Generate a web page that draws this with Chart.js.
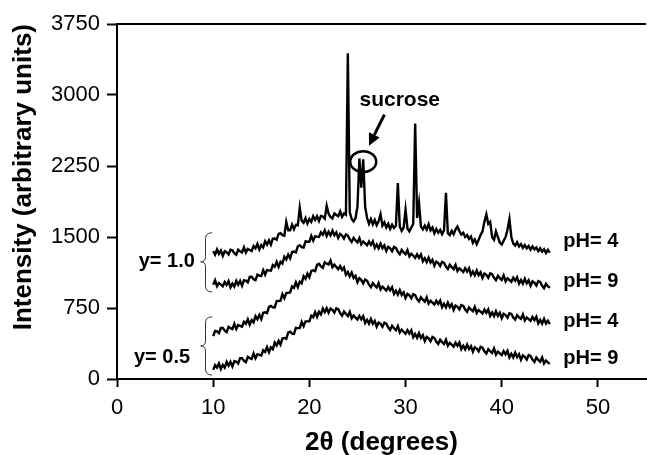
<!DOCTYPE html>
<html>
<head>
<meta charset="utf-8">
<script src="https://cdn.jsdelivr.net/npm/chart.js@4.4.1/dist/chart.umd.min.js"></script>
<style>
  html, body { margin: 0; padding: 0; background: #fff; }
  #xrd { display: block; }
</style>
</head>
<body>
<canvas id="xrd" width="647" height="455"></canvas>
<script>
// XRD patterns, 2theta sampled every 0.2 deg from 10 to 45
var angles = [];
for (var i = 0; i <= 175; i++) angles.push(Math.round((10 + i * 0.2) * 10) / 10);

// y = 1.0, pH 4 (with sucrose peaks)
var y10ph4 = [
  1350, 1314, 1368, 1322, 1356,
  1300, 1350, 1340, 1315, 1365,
  1360, 1328, 1312, 1365, 1349,
  1337, 1391, 1335, 1374, 1363,
  1352, 1404, 1380, 1427, 1368,
  1415, 1390, 1455, 1420, 1465,
  1420, 1482, 1484, 1471, 1533,
  1540, 1519, 1513, 1660, 1571,
  1570, 1631, 1582, 1628, 1624,
  1810, 1673, 1651, 1699, 1642,
  1690, 1660, 1720, 1680, 1720,
  1670, 1723, 1716, 1694, 1830,
  1745, 1713, 1696, 1749, 1732,
  1720, 1771, 1712, 1748, 1734,
  3440, 1760, 1690, 1665, 1700,
  1820, 2330, 2020, 2320, 1820,
  1700, 1640, 1690, 1635, 1680,
  1625, 1665, 1740, 1620, 1655,
  1600, 1640, 1585, 1630, 1595,
  1620, 2070, 1610, 1565, 1600,
  1790, 1590, 1560, 1600, 1640,
  2700, 1700, 1860, 1610, 1580,
  1620, 1580, 1635, 1570, 1600,
  1540, 1585, 1545, 1575, 1530,
  1570, 1968, 1540, 1520, 1565,
  1530, 1580, 1610, 1560, 1525,
  1545, 1500, 1520, 1480, 1505,
  1440, 1475, 1425, 1470, 1520,
  1560, 1660, 1740, 1640, 1660,
  1500, 1470, 1560, 1500, 1440,
  1420, 1460, 1500, 1580, 1690,
  1500, 1430, 1410, 1445, 1400,
  1425, 1385, 1415, 1380, 1405,
  1365, 1400, 1370, 1390, 1350,
  1380, 1345, 1370, 1330, 1365,
  1335
];
// y = 1.0, pH 9
var y10ph9 = [
  995, 1043, 981, 1014, 997,
  980, 1025, 994, 1034, 968,
  1008, 977, 1037, 996, 1036,
  985, 1042, 1039, 1021, 1078,
  1080, 1054, 1044, 1103, 1093,
  1087, 1150, 1102, 1150, 1147,
  1145, 1203, 1185, 1238, 1185,
  1238, 1219, 1291, 1262, 1314,
  1275, 1341, 1346, 1337, 1402,
  1413, 1393, 1389, 1454, 1450,
  1450, 1511, 1462, 1508, 1504,
  1500, 1550, 1525, 1570, 1510,
  1555, 1516, 1567, 1518, 1549,
  1490, 1533, 1516, 1484, 1527,
  1515, 1474, 1447, 1491, 1464,
  1443, 1488, 1423, 1452, 1432,
  1412, 1453, 1418, 1454, 1384,
  1420, 1380, 1430, 1381, 1411,
  1351, 1396, 1381, 1350, 1395,
  1385, 1345, 1319, 1364, 1338,
  1318, 1361, 1295, 1323, 1302,
  1280, 1318, 1281, 1315, 1243,
  1276, 1234, 1282, 1231, 1259,
  1197, 1241, 1225, 1194, 1238,
  1227, 1187, 1162, 1206, 1181,
  1161, 1206, 1141, 1170, 1150,
  1130, 1170, 1135, 1170, 1100,
  1135, 1095, 1146, 1096, 1127,
  1067, 1113, 1099, 1070, 1116,
  1107, 1068, 1044, 1090, 1066,
  1047, 1094, 1031, 1064, 1046,
  1028, 1070, 1038, 1075, 1008,
  1045, 1007, 1059, 1011, 1043,
  985, 1031, 1017, 988, 1034,
  1025, 985, 960, 1005, 980,
  962
];
// y = 0.5, pH 4
var y05ph4 = [
  452, 508, 503, 484, 539,
  540, 510, 496, 551, 537,
  527, 583, 529, 570, 561,
  552, 605, 583, 631, 574,
  622, 598, 664, 631, 677,
  633, 699, 705, 696, 762,
  773, 757, 756, 824, 823,
  827, 896, 854, 908, 911,
  915, 977, 963, 1020, 971,
  1028, 1011, 1085, 1058, 1112,
  1075, 1141, 1148, 1139, 1206,
  1217, 1189, 1175, 1232, 1218,
  1210, 1251, 1182, 1208, 1184,
  1160, 1193, 1151, 1179, 1102,
  1130, 1083, 1125, 1068, 1090,
  1023, 1064, 1045, 1010, 1051,
  1037, 996, 970, 1014, 988,
  967, 1012, 946, 976, 955,
  935, 973, 937, 970, 899,
  932, 891, 939, 888, 916,
  855, 899, 883, 852, 896,
  885, 844, 819, 863, 838,
  817, 862, 797, 826, 806,
  786, 827, 793, 828, 759,
  795, 756, 807, 758, 789,
  730, 777, 763, 735, 782,
  773, 734, 711, 757, 734,
  715, 761, 698, 729, 711,
  692, 733, 699, 735, 666,
  702, 664, 716, 667, 699,
  641, 688, 675, 648, 695,
  687, 650, 627, 675, 652,
  635, 682, 619, 650, 632,
  614, 655, 621, 657, 588,
  624, 585, 635, 586, 616,
  580
];
// y = 0.5, pH 9
var y05ph9 = [
  96, 146, 121, 165, 105,
  150, 121, 181, 142, 182,
  133, 188, 184, 164, 220,
  220, 192, 178, 235, 221,
  213, 271, 219, 262, 255,
  248, 304, 286, 337, 284,
  335, 315, 384, 354, 403,
  363, 428, 434, 424, 490,
  500, 480, 476, 541, 537,
  537, 603, 558, 609, 609,
  610, 669, 653, 707, 656,
  710, 682, 744, 706, 748,
  700, 745, 731, 701, 747,
  737, 696, 669, 713, 686,
  665, 709, 642, 671, 649,
  628, 666, 630, 663, 592,
  625, 585, 634, 584, 613,
  553, 597, 582, 551, 596,
  585, 544, 518, 562, 536,
  515, 559, 492, 521, 499,
  478, 517, 480, 514, 442,
  476, 435, 484, 433, 462,
  401, 445, 430, 399, 444,
  433, 393, 369, 414, 390,
  370, 415, 351, 381, 362,
  342, 383, 349, 385, 316,
  352, 313, 364, 316, 347,
  288, 335, 321, 293, 339,
  331, 293, 270, 316, 293,
  275, 322, 258, 290, 271,
  253, 295, 261, 298, 229,
  266, 227, 279, 230, 262,
  203, 249, 235, 206, 252,
  243, 204, 180, 226, 202,
  183, 229, 164, 195, 175,
  160
];

var seriesList = [y10ph4, y10ph9, y05ph4, y05ph9];
var phLabels = ['pH= 4', 'pH= 9', 'pH= 4', 'pH= 9'];
var groupLabels = ['y= 1.0', 'y= 0.5'];
var xTicks = [0, 10, 20, 30, 40, 50];
var FONT = "'Liberation Sans', Arial, sans-serif";

function toPoints(vals) {
  return angles.map(function(a, i) { return { x: a, y: vals[i] }; });
}

// braces, labels, sucrose marker, top frame line
var annotations = {
  id: 'annotations',
  afterDraw: function(chart) {
    var ctx = chart.ctx, xs = chart.scales.x, ys = chart.scales.y, a = chart.chartArea;
    var px = function(v) { return xs.getPixelForValue(v); };
    var py = function(v) { return ys.getPixelForValue(v); };
    ctx.save();

    ctx.strokeStyle = '#000';
    ctx.lineWidth = 2;
    ctx.beginPath();
    ctx.moveTo(a.left - 1, a.top);
    ctx.lineTo(a.right, a.top);
    ctx.stroke();

    ctx.fillStyle = '#000';
    ctx.font = 'bold 20px ' + FONT;
    ctx.textAlign = 'left';
    ctx.textBaseline = 'middle';
    var phY = [1450, 1026, 603, 212];
    phLabels.forEach(function(t, i) { ctx.fillText(t, px(46.4), py(phY[i])); });

    ctx.textAlign = 'right';
    ctx.fillText(groupLabels[0], px(8.1), py(1238));
    ctx.fillText(groupLabels[1], px(7.6), py(222));

    function brace(top, bottom, mid) {
      var xr = px(9.9), xm = px(9.2), xl = px(8.7);
      var yt = py(top), yb = py(bottom), ym = py(mid);
      ctx.beginPath();
      ctx.moveTo(xr, yt);
      ctx.quadraticCurveTo(xm, yt, xm, yt + 6);
      ctx.lineTo(xm, ym - 5);
      ctx.quadraticCurveTo(xm, ym, xl, ym);
      ctx.quadraticCurveTo(xm, ym, xm, ym + 5);
      ctx.lineTo(xm, yb - 6);
      ctx.quadraticCurveTo(xm, yb, xr, yb);
      ctx.stroke();
    }
    ctx.strokeStyle = '#333';
    ctx.lineWidth = 1;
    brace(1545, 920, 1238);
    brace(656, 42, 349);

    // sucrose callout
    ctx.font = 'bold 21px ' + FONT;
    ctx.textAlign = 'center';
    ctx.fillText('sucrose', px(29.4), py(2941));

    var x1 = px(27.8), y1 = py(2793), x2 = px(26.2), y2 = py(2465);
    var ang = Math.atan2(y2 - y1, x2 - x1);
    var hl = 12, hw = 6;
    var bx = x2 - hl * Math.cos(ang), by = y2 - hl * Math.sin(ang);
    ctx.strokeStyle = '#000';
    ctx.lineWidth = 3;
    ctx.beginPath();
    ctx.moveTo(x1, y1);
    ctx.lineTo(bx, by);
    ctx.stroke();
    ctx.beginPath();
    ctx.moveTo(x2, y2);
    ctx.lineTo(bx + hw * Math.sin(ang), by - hw * Math.cos(ang));
    ctx.lineTo(bx - hw * Math.sin(ang), by + hw * Math.cos(ang));
    ctx.closePath();
    ctx.fill();

    ctx.lineWidth = 2.5;
    ctx.beginPath();
    ctx.ellipse(px(25.6), py(2296), 13, 10.5, 0, 0, Math.PI * 2);
    ctx.stroke();

    ctx.restore();
  }
};

var ctx = document.getElementById('xrd').getContext('2d');

var data = {
  datasets: seriesList.map(function(s, i) {
    return {
      label: phLabels[i],
      data: toPoints(s),
      borderColor: '#000',
      borderWidth: 2.4,
      pointRadius: 0,
      tension: 0,
      fill: false
    };
  })
};

var options = {
  responsive: false,
  animation: false,
  layout: { padding: { top: 24, right: 1, left: 0, bottom: 0 } },
  plugins: {
    legend: { display: false },
    tooltip: { enabled: false }
  },
  scales: {
    x: {
      type: 'linear',
      min: 0,
      max: 55,
      afterBuildTicks: function(scale) {
        scale.ticks = xTicks.map(function(v) { return { value: v }; });
      },
      afterFit: function(scale) { scale.height = 76; },
      ticks: {
        color: '#000',
        font: { family: FONT, size: 22 },
        padding: 8,
        maxRotation: 0,
        callback: function(v) { return String(v); }
      },
      grid: {
        drawOnChartArea: false,
        drawTicks: true,
        tickLength: 8,
        tickWidth: 2,
        color: '#000'
      },
      border: { display: true, color: '#000', width: 2 },
      title: {
        display: true,
        text: '2θ (degrees)',
        color: '#000',
        font: { family: FONT, size: 26, weight: 'bold' },
        padding: { top: 0, bottom: -3 }
      }
    },
    y: {
      min: 0,
      max: 3750,
      afterFit: function(scale) { scale.width = 117; },
      ticks: {
        stepSize: 750,
        color: '#000',
        font: { family: FONT, size: 22 },
        padding: 7,
        callback: function(v) { return String(v); }
      },
      grid: {
        drawOnChartArea: false,
        drawTicks: true,
        tickLength: 10,
        tickWidth: 2,
        color: '#000'
      },
      border: { display: true, color: '#000', width: 2 },
      title: {
        display: true,
        text: 'Intensity (arbitrary units)',
        align: 'end',
        color: '#000',
        font: { family: FONT, size: 26, weight: 'bold' },
        padding: { top: 8, bottom: 0 }
      }
    }
  }
};

var xrdChart = new Chart(ctx, {
  type: 'line',
  data: data,
  options: options,
  plugins: [annotations]
});
</script>
</body>
</html>
